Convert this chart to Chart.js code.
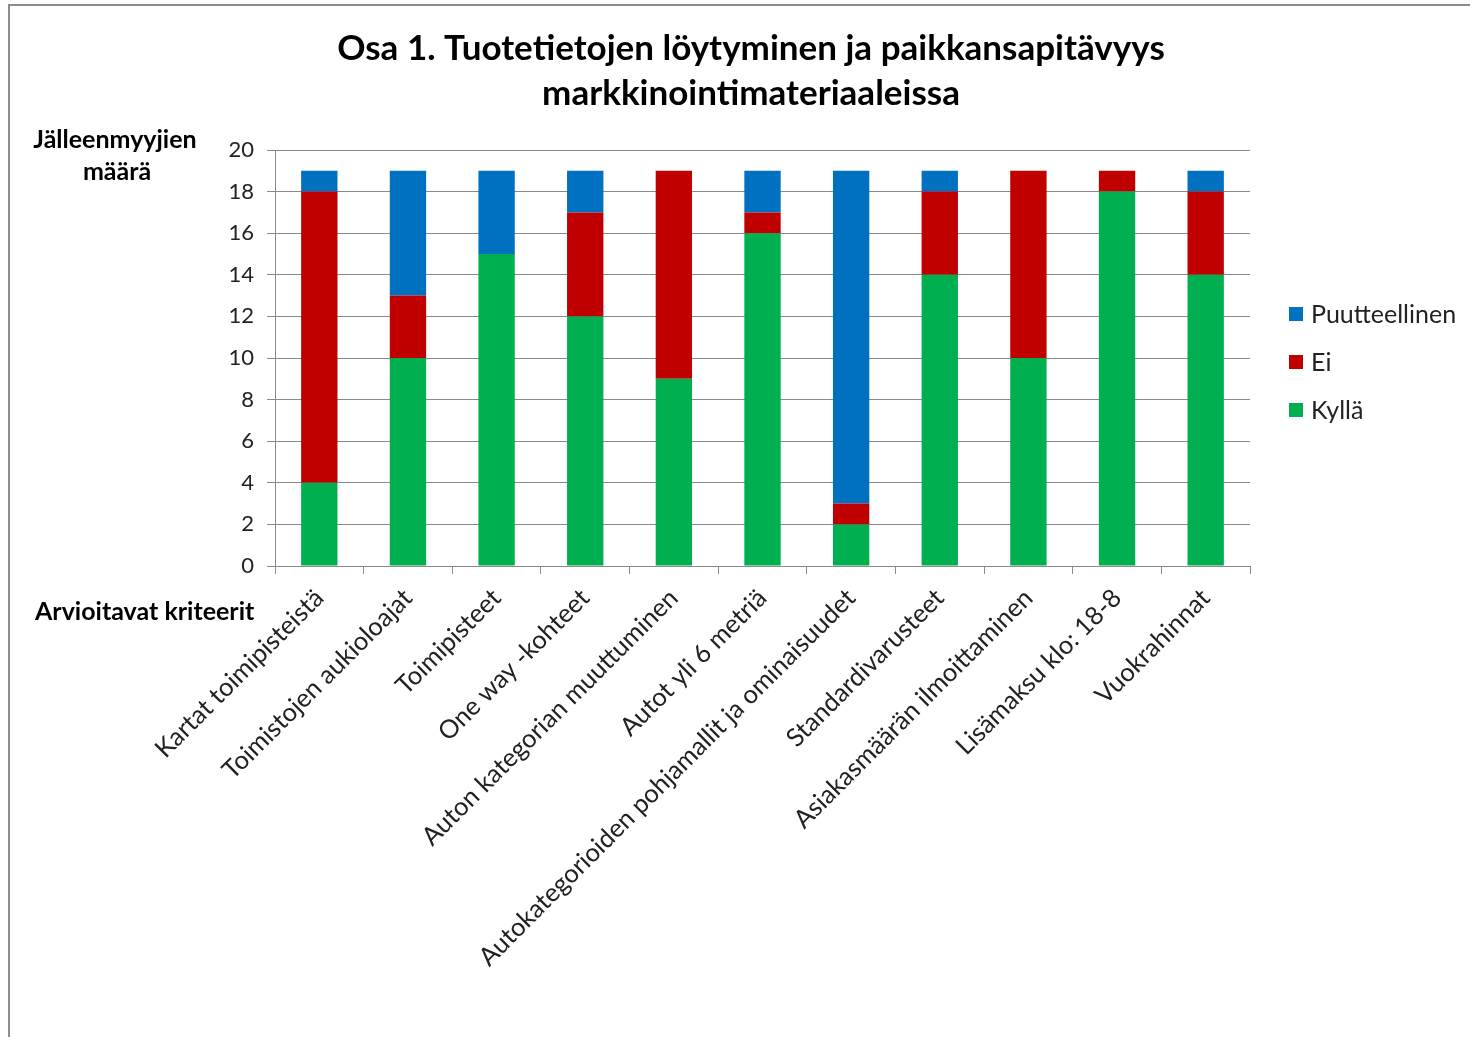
<!DOCTYPE html>
<html><head><meta charset="utf-8">
<script src="https://cdn.jsdelivr.net/npm/chart.js@4.4.1/dist/chart.umd.min.js"></script>
<style>html,body{margin:0;padding:0;background:#fff;overflow:hidden}#wrap{position:absolute;left:0;top:0;width:1470px;height:1037px}</style>
</head><body><div id="wrap"><canvas id="c" width="1470" height="1037"></canvas></div>
<script>
const titleLines = ["Osa 1. Tuotetietojen löytyminen ja paikkansapitävyys", "markkinointimateriaaleissa"];
const yAxisTitle = ["Jälleenmyyjien", "määrä"];
const xAxisTitle = "Arvioitavat kriteerit";
const categories = ["Kartat toimipisteistä", "Toimistojen aukioloajat", "Toimipisteet", "One way -kohteet", "Auton kategorian muuttuminen", "Autot yli 6 metriä", "Autokategorioiden pohjamallit ja ominaisuudet", "Standardivarusteet", "Asiakasmäärän ilmoittaminen", "Lisämaksu klo: 18-8", "Vuokrahinnat"];
const kylla = [4, 10, 15, 12, 9, 16, 2, 14, 10, 18, 14];
const ei = [14, 3, 0, 5, 10, 1, 1, 4, 9, 1, 4];
const puutteellinen = [1, 6, 4, 2, 0, 2, 16, 1, 0, 0, 1];
const seriesNames = ["Kyllä", "Ei", "Puutteellinen"];
const seriesColors = ["#00B050", "#C00000", "#0070C0"];
const yMin = 0, yMax = 20, yStep = 2;

const FONT = "Lato, 'Liberation Sans', sans-serif";
const GRID = "#8a8a8a";

const decor = {
  id: 'decor',
  beforeDraw(chart) {
    const ctx = chart.ctx;
    ctx.save();
    ctx.strokeStyle = "#8c8c8c";
    ctx.lineWidth = 2;
    ctx.beginPath();
    ctx.moveTo(9, 1037); ctx.lineTo(9, 5); ctx.lineTo(1470, 5);
    ctx.stroke();
    ctx.restore();
  },
  afterDraw(chart) {
    const ctx = chart.ctx;
    ctx.save();
    ctx.fillStyle = "#000";
    ctx.textAlign = "center";
    ctx.textBaseline = "middle";
    ctx.font = "bold 35px " + FONT;
    ctx.fillText(titleLines[0], 751, 49);
    ctx.fillText(titleLines[1], 751, 94);
    ctx.font = "bold 25px " + FONT;
    ctx.fillText(yAxisTitle[0], 115, 140);
    ctx.fillText(yAxisTitle[1], 117, 172);
    ctx.textAlign = "left";
    ctx.fillText(xAxisTitle, 35, 612);
    // legend (reverse order)
    ctx.font = "25px " + FONT;
    const ds = chart.data.datasets;
    for (let i = 0; i < ds.length; i++) {
      const d = ds[ds.length - 1 - i];
      const cy = 314 + i * 48;
      ctx.fillStyle = d.backgroundColor;
      ctx.fillRect(1289, cy - 7, 14, 14);
      ctx.fillStyle = "#222";
      ctx.fillText(d.label, 1311, cy + 1);
    }
    ctx.restore();
  }
};

new Chart(document.getElementById('c'), {
  type: 'bar',
  data: {
    labels: categories,
    datasets: [
      { label: seriesNames[0], data: kylla, backgroundColor: seriesColors[0] },
      { label: seriesNames[1], data: ei, backgroundColor: seriesColors[1] },
      { label: seriesNames[2], data: puutteellinen, backgroundColor: seriesColors[2] }
    ]
  },
  options: {
    responsive: false,
    animation: false,
    layout: { padding: { left: 200, right: 220, top: 150, bottom: 0 } },
    datasets: { bar: { categoryPercentage: 1, barPercentage: 0.41 } },
    plugins: { legend: { display: false }, title: { display: false }, tooltip: { enabled: false } },
    scales: {
      x: {
        stacked: true,
        afterFit(s) { s.height = 471; },
        border: { display: true, color: GRID, width: 1 },
        grid: { drawOnChartArea: false, drawTicks: true, tickLength: 8, color: GRID, offset: true },
        ticks: { autoSkip: false, minRotation: 45, maxRotation: 45, color: "#222", font: { family: FONT, size: 25.5 }, padding: 9 }
      },
      y: {
        stacked: true,
        min: yMin, max: yMax,
        afterFit(s) { s.width = 75; },
        border: { display: true, color: GRID, width: 1 },
        grid: { color: GRID, tickLength: 8, lineWidth: 1 },
        ticks: { stepSize: yStep, color: "#222", font: { family: FONT, size: 22 }, padding: 13 }
      }
    }
  },
  plugins: [decor]
});
</script>
</body></html>
